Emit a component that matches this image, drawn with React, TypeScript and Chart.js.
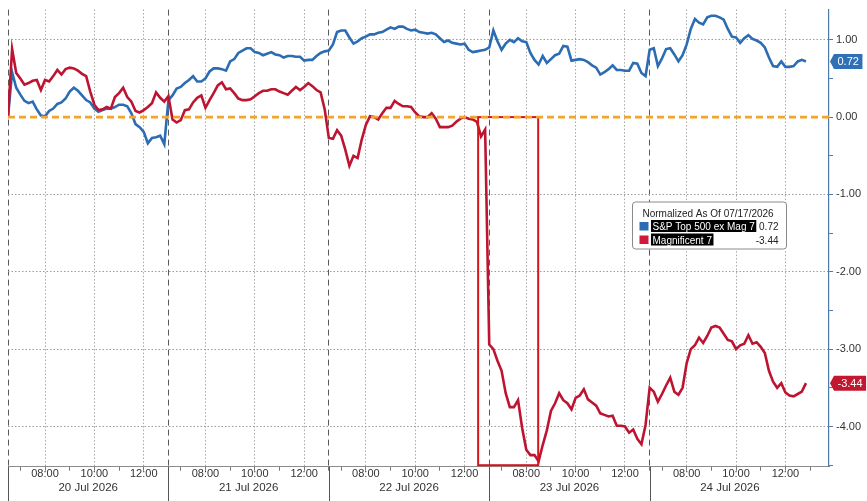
import React, { useEffect, useRef } from "react";
import { Chart, registerables } from "chart.js";

Chart.register(...registerables);

// ---------- data ----------
const DAYS = ["20 Jul 2026", "21 Jul 2026", "22 Jul 2026", "23 Jul 2026", "24 Jul 2026"];
const SESSION_OPEN = "06:30";
const SESSION_CLOSE = "13:00";
const BAR_MINUTES = 10;
const HOUR_TICKS = ["07:00", "08:00", "09:00", "10:00", "11:00", "12:00"];
const LABELED_HOURS = ["08:00", "10:00", "12:00"];
const Y_TICKS = [1, 0.5, 0, -0.5, -1, -1.5, -2, -2.5, -3, -3.5, -4, -4.5];
const Y_MIN = -4.52;
const Y_MAX = 1.39;
const X_PAD_BARS = 4.6;
const BASELINE = 0;
const LEGEND_TITLE = "Normalized As Of 07/17/2026";
const SERIES_NAMES = ["S&P Top 500 ex Mag 7", "Magnificent 7"];
const HIGHLIGHT_FROM = { day: 2, time: "12:33" };
const HIGHLIGHT_TO = { day: 3, time: "08:29" };

// 10-minute bars from 20 Jul 06:30
const SP_EX_MAG7 = [
  0.0, 0.58, 0.38, 0.29, 0.21, 0.18, 0.2, 0.1, 0.02, 0.01,
  0.08, 0.11, 0.17, 0.19, 0.24, 0.33, 0.38, 0.34, 0.28, 0.22,
  0.19, 0.11, 0.07, 0.09, 0.11, 0.11, 0.13, 0.16, 0.16, 0.14,
  0.05, -0.09, -0.13, -0.19, -0.34, -0.27, -0.26, -0.24, -0.35, 0.22,
  0.28, 0.37, 0.39, 0.44, 0.48, 0.53, 0.46, 0.46, 0.5, 0.59,
  0.63, 0.63, 0.62, 0.6, 0.72, 0.75, 0.83, 0.86, 0.89, 0.89,
  0.84, 0.83, 0.8, 0.82, 0.84, 0.81, 0.8, 0.77, 0.79, 0.79,
  0.78, 0.78, 0.73, 0.74, 0.74, 0.79, 0.83, 0.85, 0.86, 0.94,
  1.1, 1.12, 1.12, 1.03, 0.95, 0.98, 1.02, 1.04, 1.07, 1.07,
  1.09, 1.1, 1.13, 1.16, 1.14, 1.17, 1.17, 1.14, 1.12, 1.13,
  1.1, 1.09,
  1.08, 1.09, 1.07, 1.02, 0.97, 0.99, 0.96, 0.95, 0.94,
  0.95, 0.87, 0.84, 0.85, 0.86, 0.87, 0.9, 1.12, 0.98, 0.87,
  0.95, 1.0, 0.97, 1.02, 0.98, 0.97, 0.83, 0.74, 0.68, 0.79,
  0.7, 0.75, 0.8, 0.82, 0.92, 0.91, 0.73, 0.74, 0.75, 0.74,
  0.71, 0.67, 0.64, 0.55, 0.58, 0.62, 0.67, 0.61, 0.61, 0.6,
  0.6, 0.7, 0.69, 0.57, 0.53, 0.87, 0.89, 0.66, 0.76, 0.88,
  0.89, 0.81, 0.72, 0.8, 0.94, 1.14, 1.27, 1.22, 1.2, 1.29,
  1.31, 1.31, 1.29, 1.26, 1.14, 1.04, 1.03, 0.96, 1.02, 1.06,
  1.01, 0.99, 0.96, 0.9, 0.77, 0.66, 0.65, 0.72, 0.65, 0.65,
  0.66, 0.72, 0.74, 0.72,
];

const MAG_7 = [
  0.0, 0.88, 0.57, 0.5, 0.42, 0.44, 0.47, 0.48, 0.35, 0.48,
  0.46, 0.53, 0.61, 0.55, 0.62, 0.64, 0.63, 0.6, 0.56, 0.53,
  0.33, 0.16, 0.09, 0.1, 0.13, 0.11, 0.26, 0.31, 0.38, 0.26,
  0.2, 0.08, 0.06, 0.09, 0.13, 0.18, 0.32, 0.25, 0.2, 0.27,
  -0.03, -0.07, -0.04, 0.09, 0.1, 0.19, 0.25, 0.28, 0.12, 0.22,
  0.31, 0.41, 0.45, 0.36, 0.37, 0.31, 0.24, 0.22, 0.22, 0.23,
  0.27, 0.31, 0.34, 0.34, 0.36, 0.36, 0.33, 0.31, 0.29, 0.34,
  0.39, 0.35, 0.39, 0.44, 0.4, 0.35, 0.32, 0.1, -0.27, -0.28,
  -0.17, -0.24, -0.42, -0.63, -0.5, -0.53, -0.29, -0.1, 0.01, 0.0,
  -0.03, 0.05, 0.12, 0.12, 0.21, 0.17, 0.14, 0.14, 0.13, 0.06,
  0.01, 0.0,
  0.0, 0.05, -0.02, -0.13, -0.13, -0.13, -0.11, -0.06, -0.02,
  0.0, -0.02, -0.03, -0.06, -0.25, -0.16, -2.94, -3.0, -3.15, -3.28,
  -3.57, -3.75, -3.75, -3.66, -4.02, -4.3, -4.37, -4.37, -4.45, -4.24,
  -4.05, -3.8, -3.7, -3.57, -3.66, -3.7, -3.78, -3.63, -3.6, -3.52,
  -3.65, -3.69, -3.73, -3.83, -3.85, -3.87, -3.86, -3.99, -3.99, -4.0,
  -4.08, -4.04, -4.16, -4.23, -3.98, -3.5, -3.55, -3.68, -3.58, -3.47,
  -3.37, -3.55, -3.59, -3.5, -3.18, -3.0, -2.95, -2.85, -2.92, -2.83,
  -2.72, -2.7, -2.72, -2.8, -2.88, -2.9, -3.0, -2.95, -2.93, -2.82,
  -2.93, -2.91, -2.97, -3.05, -3.28, -3.42, -3.5, -3.44, -3.56, -3.6,
  -3.61, -3.58, -3.55, -3.44,
];

// ---------- styles ----------
const BLUE = "#2b6cb3";
const RED = "#bd1431";
const TAG_BLUE = "#2f70b7";
const TAG_RED = "#c3162f";
const ORANGE = "#f4a42a";
const BOX_RED = "#d5141c";
const FONT = "'Liberation Sans', Arial, sans-serif";

const toMin = (t: string) => {
  const [h, m] = t.split(":").map(Number);
  return h * 60 + m;
};
const fmt = (mins: number) => {
  const h = Math.floor(mins / 60);
  const m = Math.round(mins - h * 60);
  return `${String(h).padStart(2, "0")}:${String(m).padStart(2, "0")}`;
};
const BARS_PER_DAY = (toMin(SESSION_CLOSE) - toMin(SESSION_OPEN)) / BAR_MINUTES;
const barAt = (day: number, time: string) =>
  day * BARS_PER_DAY + (toMin(time) - toMin(SESSION_OPEN)) / BAR_MINUTES;
const X_MAX = DAYS.length * BARS_PER_DAY + X_PAD_BARS;

const isBoundary = (v: number) => Math.abs(v / BARS_PER_DAY - Math.round(v / BARS_PER_DAY)) < 1e-6;
const timeOf = (v: number) => {
  const d = Math.floor(v / BARS_PER_DAY + 1e-9);
  const off = v - d * BARS_PER_DAY;
  return fmt(toMin(SESSION_OPEN) + off * BAR_MINUTES);
};
const isInt = (v: number) => Math.abs(v - Math.round(v)) < 1e-9;

const X_TICKS: number[] = [];
DAYS.forEach((_, d) => {
  X_TICKS.push(barAt(d, SESSION_OPEN));
  HOUR_TICKS.forEach((t) => X_TICKS.push(barAt(d, t)));
});
X_TICKS.push(barAt(DAYS.length, SESSION_OPEN));
const DAY_MIDS = DAYS.map((_, d) => d * BARS_PER_DAY + BARS_PER_DAY / 2);

const overlayPlugin = {
  id: "overlay",
  afterDatasetsDraw(chart: any) {
    const { ctx, chartArea: a, scales } = chart;
    const x = scales.x;
    const y = scales.y;
    const y0 = y.getPixelForValue(BASELINE);
    const x0 = x.getPixelForValue(barAt(HIGHLIGHT_FROM.day, HIGHLIGHT_FROM.time));
    const x1 = x.getPixelForValue(barAt(HIGHLIGHT_TO.day, HIGHLIGHT_TO.time));
    ctx.save();
    ctx.strokeStyle = BOX_RED;
    ctx.lineWidth = 2;
    ctx.strokeRect(x0, y0, x1 - x0, a.bottom - 1.5 - y0);
    ctx.setLineDash([7, 4]);
    ctx.strokeStyle = ORANGE;
    ctx.lineWidth = 2.6;
    ctx.beginPath();
    ctx.moveTo(a.left, y0);
    ctx.lineTo(a.right, y0);
    ctx.stroke();
    ctx.restore();
  },
  afterDraw(chart: any) {
    const { ctx, chartArea: a, scales, height } = chart;
    const x = scales.x;
    const y = scales.y;
    ctx.save();
    // day separators continue through the label band
    ctx.strokeStyle = "#555";
    ctx.lineWidth = 1;
    DAYS.forEach((_, d) => {
      const px = Math.round(x.getPixelForValue(d * BARS_PER_DAY)) + 0.5;
      ctx.beginPath();
      ctx.moveTo(px, a.bottom);
      ctx.lineTo(px, height);
      ctx.stroke();
    });
    // last value tags
    const series = [
      { data: SP_EX_MAG7, color: TAG_BLUE },
      { data: MAG_7, color: TAG_RED },
    ];
    ctx.font = `11px ${FONT}`;
    ctx.textBaseline = "middle";
    series.forEach((s) => {
      const v = s.data[s.data.length - 1];
      const py = y.getPixelForValue(v);
      const label = v.toFixed(2);
      const tw = ctx.measureText(label).width;
      const bx = a.right + 5;
      const h = 15;
      ctx.fillStyle = s.color;
      ctx.beginPath();
      ctx.moveTo(a.right + 1, py);
      ctx.lineTo(bx, py - h / 2);
      ctx.lineTo(bx + tw + 7, py - h / 2);
      ctx.lineTo(bx + tw + 7, py + h / 2);
      ctx.lineTo(bx, py + h / 2);
      ctx.closePath();
      ctx.fill();
      ctx.fillStyle = "#fff";
      ctx.textAlign = "left";
      ctx.fillText(label, bx + 3.5, py + 0.5);
    });
    // legend box
    const lx = 632.5;
    const ly = 202;
    const lw = 154;
    const lh = 47;
    ctx.fillStyle = "#fff";
    ctx.strokeStyle = "#8a8a8a";
    ctx.lineWidth = 1;
    ctx.beginPath();
    (ctx as any).roundRect ? (ctx as any).roundRect(lx, ly, lw, lh, 3) : ctx.rect(lx, ly, lw, lh);
    ctx.fill();
    ctx.stroke();
    ctx.font = `10px ${FONT}`;
    ctx.textBaseline = "alphabetic";
    ctx.fillStyle = "#222";
    ctx.textAlign = "left";
    ctx.fillText(LEGEND_TITLE, lx + 10, ly + 15);
    const rows = [
      { name: SERIES_NAMES[0], color: BLUE, value: SP_EX_MAG7[SP_EX_MAG7.length - 1], top: ly + 18 },
      { name: SERIES_NAMES[1], color: "#d3173a", value: MAG_7[MAG_7.length - 1], top: ly + 31.5 },
    ];
    rows.forEach((r) => {
      ctx.fillStyle = r.color;
      ctx.fillRect(lx + 7, r.top + 2, 9, 8.5);
      const tw = ctx.measureText(r.name).width;
      ctx.fillStyle = "#000";
      ctx.fillRect(lx + 18.5, r.top, tw + 3, 12);
      ctx.fillStyle = "#fff";
      ctx.textAlign = "left";
      ctx.fillText(r.name, lx + 20, r.top + 10);
      ctx.fillStyle = "#222";
      ctx.textAlign = "right";
      ctx.fillText(r.value.toFixed(2), lx + 146, r.top + 10);
    });
    ctx.restore();
  },
};

export default function App() {
  const ref = useRef<HTMLCanvasElement | null>(null);

  useEffect(() => {
    document.body.style.margin = "0";
    const canvas = ref.current;
    if (!canvas) return;
    const chart = new Chart(canvas, {
      type: "line",
      data: {
        datasets: [
          {
            label: SERIES_NAMES[0],
            data: SP_EX_MAG7.map((v, i) => ({ x: i, y: v })),
            borderColor: BLUE,
            borderWidth: 2.6,
            pointRadius: 0,
            tension: 0,
            order: 2,
          },
          {
            label: SERIES_NAMES[1],
            data: MAG_7.map((v, i) => ({ x: i, y: v })),
            borderColor: RED,
            borderWidth: 2.6,
            pointRadius: 0,
            tension: 0,
            order: 1,
          },
        ],
      },
      options: {
        animation: false,
        responsive: false,
        layout: { padding: { left: 8, top: 8, right: 0, bottom: 0 } },
        plugins: { legend: { display: false }, tooltip: { enabled: false } },
        scales: {
          x: {
            type: "linear",
            position: "bottom",
            min: 0,
            max: X_MAX,
            afterBuildTicks: (s: any) => {
              s.ticks = X_TICKS.map((v) => ({ value: v }));
            },
            afterFit: (s: any) => {
              s.height = 14;
            },
            grid: {
              drawOnChartArea: true,
              tickLength: 4,
              tickColor: "#777",
              lineWidth: 1,
              color: (c: any) => {
                const v = c.tick ? c.tick.value : null;
                if (v == null) return "transparent";
                if (isBoundary(v)) return v >= DAYS.length * BARS_PER_DAY - 1e-6 ? "transparent" : "#5a5a5a";
                return LABELED_HOURS.includes(timeOf(v)) ? "#a9a9a9" : "transparent";
              },
            },
            border: {
              display: true,
              color: "#8c8c8c",
              width: 1,
              dash: (c: any) => {
                if (!c.tick) return [];
                return isBoundary(c.tick.value) ? [6, 4] : [1.5, 2];
              },
            },
            ticks: {
              autoSkip: false,
              maxRotation: 0,
              minRotation: 0,
              padding: -2,
              color: "#333",
              font: { family: FONT, size: 11, lineHeight: 1 },
              callback: (v: any) => {
                const val = Number(v);
                if (isBoundary(val)) return "";
                const t = timeOf(val);
                return LABELED_HOURS.includes(t) ? t : "";
              },
            },
          },
          xDay: {
            type: "linear",
            position: "bottom",
            min: 0,
            max: X_MAX,
            afterBuildTicks: (s: any) => {
              s.ticks = DAY_MIDS.map((v) => ({ value: v }));
            },
            afterFit: (s: any) => {
              s.height = 20.3;
            },
            grid: { display: false, drawTicks: false, drawOnChartArea: false },
            border: { display: false },
            ticks: {
              autoSkip: false,
              maxRotation: 0,
              minRotation: 0,
              padding: 1,
              color: "#333",
              font: { family: FONT, size: 11.5, lineHeight: 1 },
              callback: (v: any) => DAYS[Math.floor(Number(v) / BARS_PER_DAY)] ?? "",
            },
          },
          y: {
            type: "linear",
            position: "right",
            min: Y_MIN,
            max: Y_MAX,
            afterBuildTicks: (s: any) => {
              s.ticks = Y_TICKS.map((v) => ({ value: v }));
            },
            afterFit: (s: any) => {
              s.width = 38;
            },
            grid: {
              drawOnChartArea: true,
              tickLength: 4,
              tickColor: "#4f79a8",
              color: (c: any) => {
                const v = c.tick ? c.tick.value : null;
                if (v == null) return "transparent";
                return isInt(v) && v !== 0 ? "#9c9c9c" : "transparent";
              },
            },
            border: {
              display: true,
              color: "#4f79a8",
              width: 1.2,
              dash: (c: any) => (c.tick ? [1.5, 2] : []),
            },
            ticks: {
              autoSkip: false,
              padding: 3,
              color: "#333",
              font: { family: FONT, size: 11 },
              callback: (v: any) => (isInt(Number(v)) ? Number(v).toFixed(2) : ""),
            },
          },
        },
      } as any,
      plugins: [overlayPlugin],
    });
    return () => chart.destroy();
  }, []);

  return (
    <div style={{ width: 867, height: 501, overflow: "hidden", background: "#fff" }}>
      <canvas ref={ref} width={867} height={501} style={{ display: "block" }} />
    </div>
  );
}
